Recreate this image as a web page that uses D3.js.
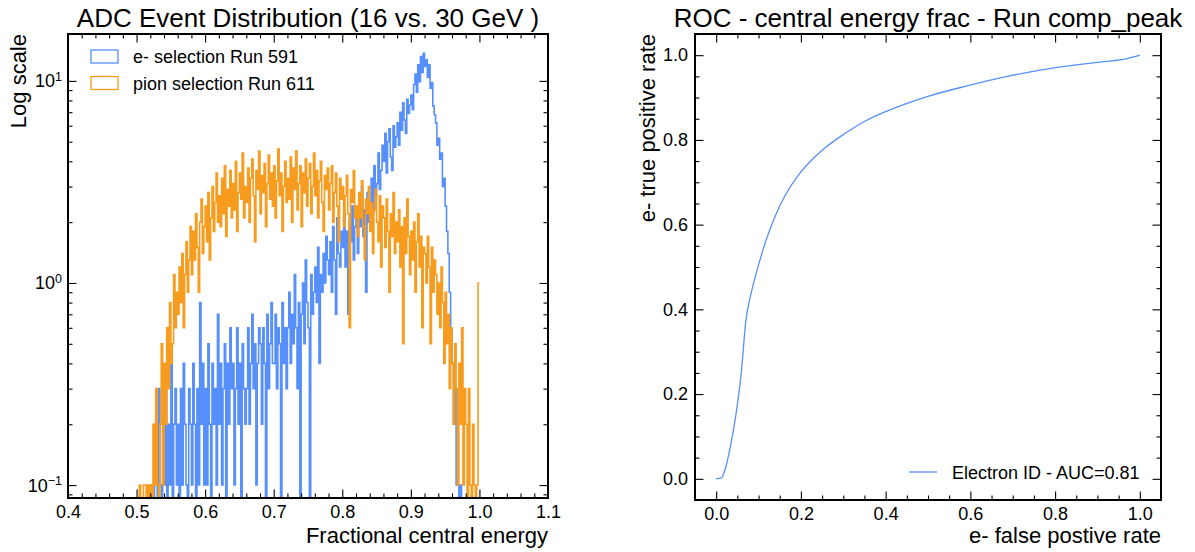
<!DOCTYPE html>
<html>
<head>
<meta charset="utf-8">
<title>ADC Event Distribution - ROC</title>
<script src="https://cdn.jsdelivr.net/npm/d3@7"></script>
<style>
  body { margin: 0; background: #fff; }
  svg text { font-family: "Liberation Sans", Arial, Helvetica, sans-serif; fill: #000; }
</style>
</head>
<body>
<svg id="chart" width="1195" height="552"></svg>
<script>
// histogram binning: 250 bins of 0.002 from 0.5 to 1.0
// values are counts per bin, drawn as density = count / 10
var binStart = 0.5, binWidth = 0.002, densityNorm = 10;

var eCounts = [
  0,0,0,0,0,0,0,0,0,0,
  1,0,0,2,1,0,3,1,0,2,
  1,3,0,2,1,4,0,2,3,1,
  2,0,3,1,4,2,1,0,3,2,
  1,4,2,0,3,1,8,2,4,1,
  3,1,5,2,0,4,2,3,1,7,
  2,4,1,3,5,0,4,2,6,3,
  4,1,3,6,2,4,0,5,3,2,
  3,6,2,4,7,3,5,1,4,6,
  5,2,6,4,0,7,3,5,8,4,
  4,7,3,6,5,0,8,4,6,3,
  6,9,4,7,5,11,6,3,8,0,
  7,10,5,13,8,6,0,11,7,9,
  12,8,15,4,11,9,14,10,17,13,
  11,16,9,19,13,7,21,14,12,18,
  15,22,12,18,7,20,16,24,13,19,
  21,14,26,19,30,17,23,9,28,20,
  25,33,22,38,27,31,44,29,36,48,
  40,55,35,50,58,42,36,60,47,53,
  62,48,70,57,78,64,55,81,69,76,
  85,72,96,108,88,120,99,132,110,137,
  118,127,104,120,92,98,75,68,62,48,
  52,41,44,30,33,24,18,14,9,6,
  4,2,3,1,1,0,1,0,0,0,
  0,0,0,0,0,0,0,0,0,0
];

var pionCounts = [
  0,0,1,0,0,1,1,0,1,0,
  1,0,2,1,3,1,0,2,5,1,
  4,2,6,3,8,4,5,11,6,9,
  7,12,8,14,6,11,16,9,13,19,
  11,18,13,22,15,9,20,26,14,19,
  24,16,28,13,21,30,18,25,35,20,
  27,19,33,22,38,17,29,24,36,21,
  31,23,40,18,28,35,26,44,21,30,
  25,37,20,33,41,27,16,36,29,45,
  22,34,28,39,19,31,43,26,35,24,
  38,21,32,46,27,35,18,30,40,25,
  33,26,42,20,37,29,45,23,31,38,
  19,35,28,41,24,33,39,22,30,44,
  27,36,21,32,40,25,18,34,29,37,
  23,31,38,20,28,35,24,16,33,26,
  30,19,27,34,22,6,29,25,36,21,
  24,17,28,21,32,19,13,26,22,30,
  18,25,14,23,29,20,16,27,12,24,
  21,15,26,18,9,22,17,28,14,20,
  16,23,12,19,5,21,14,26,17,11,
  18,13,20,9,16,22,12,17,6,15,
  14,10,17,12,5,15,9,13,11,7,
  10,6,12,8,4,9,5,7,3,6,
  4,2,5,3,1,4,2,6,1,3,
  2,0,3,1,0,2,1,0,1,10
];

var histLabels = ["e- selection Run 591", "pion selection Run 611"];
var histTicksX = [0.4, 0.5, 0.6, 0.7, 0.8, 0.9, 1.0, 1.1];
var histTicksY = [0.1, 1, 10];

// ROC curve
var rocFpr = [0, 0.012, 0.023, 0.035, 0.047, 0.059, 0.070, 0.082, 0.094, 0.117, 0.141, 0.164, 0.195,
              0.226, 0.258, 0.304, 0.351, 0.418, 0.504, 0.590, 0.693, 0.805, 0.909, 0.970, 1.0];
var rocTpr = [0, 0.002, 0.029, 0.084, 0.154, 0.248, 0.373, 0.436, 0.483, 0.561, 0.624, 0.671, 0.718,
              0.753, 0.782, 0.815, 0.844, 0.874, 0.904, 0.927, 0.951, 0.971, 0.984, 0.992, 1.0];
var rocLabel = "Electron ID - AUC=0.81";
var rocTicks = [0.0, 0.2, 0.4, 0.6, 0.8, 1.0];

var blue = "#5790fc", orange = "#f89c20";

var svg = d3.select("#chart");

var L = {x0: 68, x1: 548, y0: 34, y1: 498};
var R = {x0: 695, x1: 1161, y0: 34, y1: 500};

var xh = d3.scaleLinear().domain([0.4, 1.1]).range([L.x0, L.x1]);
var yh = d3.scaleLog().domain([0.0863, 17.06]).range([L.y1, L.y0]);
var xr = d3.scaleLinear().domain([-0.05, 1.05]).range([R.x0, R.x1]);
var yr = d3.scaleLinear().domain([-0.05, 1.05]).range([R.y1, R.y0]);

function fmt1(d) { return d.toFixed(1); }

function drawAxes(box, xs, ys, o) {
  var g = svg.append("g");
  function add(axis, tx, ty) {
    var a = g.append("g").attr("transform", "translate(" + tx + "," + ty + ")").call(axis);
    a.attr("font-size", 18).attr("font-family", null);
    return a;
  }
  add(d3.axisBottom(xs).tickValues(o.xMinor).tickSize(-4.5).tickFormat(""), 0, box.y1);
  add(d3.axisBottom(xs).tickValues(o.xMajor).tickSize(-8.5).tickPadding(7).tickFormat(o.xFmt), 0, box.y1);
  add(d3.axisTop(xs).tickValues(o.xMinor).tickSize(-4.5).tickFormat(""), 0, box.y0);
  add(d3.axisTop(xs).tickValues(o.xMajor).tickSize(-8.5).tickFormat(""), 0, box.y0);
  add(d3.axisLeft(ys).tickValues(o.yMinor).tickSize(-4.5).tickFormat(""), box.x0, 0);
  add(d3.axisLeft(ys).tickValues(o.yMajor).tickSize(-8.5).tickPadding(7).tickFormat(o.yFmt || ""), box.x0, 0);
  add(d3.axisRight(ys).tickValues(o.yMinor).tickSize(-4.5).tickFormat(""), box.x1, 0);
  add(d3.axisRight(ys).tickValues(o.yMajor).tickSize(-8.5).tickFormat(""), box.x1, 0);
  g.selectAll(".domain").remove();
  g.selectAll(".tick line").attr("stroke", "#000").attr("stroke-width", 1.1);
  svg.append("rect")
    .attr("x", box.x0).attr("y", box.y0)
    .attr("width", box.x1 - box.x0).attr("height", box.y1 - box.y0)
    .attr("fill", "none").attr("stroke", "#000").attr("stroke-width", 2);
  return g;
}

// ---------- left: histograms ----------
var defs = svg.append("defs");
defs.append("clipPath").attr("id", "clipL").append("rect")
  .attr("x", L.x0).attr("y", L.y0).attr("width", L.x1 - L.x0).attr("height", L.y1 - L.y0);
defs.append("clipPath").attr("id", "clipR").append("rect")
  .attr("x", R.x0).attr("y", R.y0).attr("width", R.x1 - R.x0).attr("height", R.y1 - R.y0);

function stepPoints(counts) {
  var pts = counts.map(function(c, i) { return [binStart + i * binWidth, c / densityNorm]; });
  pts.push([binStart + counts.length * binWidth, counts[counts.length - 1] / densityNorm]);
  return pts;
}
var stepLine = d3.line()
  .x(function(d) { return xh(d[0]); })
  .y(function(d) { return d[1] > 0 ? yh(d[1]) : L.y1 + 40; })
  .curve(d3.curveStepAfter);

var histG = svg.append("g").attr("clip-path", "url(#clipL)");
[[eCounts, blue], [pionCounts, orange]].forEach(function(s) {
  histG.append("path")
    .attr("d", stepLine(stepPoints(s[0])))
    .attr("fill", "none").attr("stroke", s[1]).attr("stroke-width", 1.6)
    .attr("stroke-linejoin", "miter");
});

var minorLogY = [];
[0.01, 0.1, 1, 10].forEach(function(dec) {
  for (var k = 2; k <= 9; k++) {
    var v = dec * k;
    if (v > yh.domain()[0] && v < yh.domain()[1]) minorLogY.push(v);
  }
});
drawAxes(L, xh, yh, {
  xMajor: histTicksX, xMinor: d3.range(0.42, 1.1, 0.02).filter(function(v) { return Math.abs(Math.round(v * 10) - v * 10) > 1e-6; }),
  yMajor: histTicksY, yMinor: minorLogY, xFmt: fmt1
});
histTicksY.forEach(function(v) {
  var e = String(Math.round(Math.log10(v))).replace("-", "\u2212");
  var t = svg.append("text").attr("x", L.x0 - 6).attr("y", yh(v)).attr("dy", "0.36em")
    .attr("text-anchor", "end").attr("font-size", 18);
  t.append("tspan").text("10");
  t.append("tspan").attr("dy", "-0.5em").attr("font-size", 12.5).text(e);
});

svg.append("text").attr("x", (L.x0 + L.x1) / 2).attr("y", 27).attr("text-anchor", "middle")
  .attr("font-size", 26).text("ADC Event Distribution (16 vs. 30 GeV )");
svg.append("text").attr("x", L.x1).attr("y", 543).attr("text-anchor", "end")
  .attr("font-size", 22).text("Fractional central energy");
svg.append("text").attr("transform", "translate(26," + L.y0 + ") rotate(-90)")
  .attr("text-anchor", "end").attr("font-size", 22).text("Log scale");

// legend (left)
[blue, orange].forEach(function(c, i) {
  svg.append("rect").attr("x", 91).attr("y", 50 + i * 26.5).attr("width", 27).attr("height", 13)
    .attr("fill", "none").attr("stroke", c).attr("stroke-width", 1.3);
  svg.append("text").attr("x", 133).attr("y", 63 + i * 26.5).attr("font-size", 18).text(histLabels[i]);
});

// ---------- right: ROC ----------
var rocMinor = d3.range(-0.05, 1.051, 0.05).filter(function(v) { return Math.abs(Math.round(v * 5) - v * 5) > 1e-6; });
drawAxes(R, xr, yr, {
  xMajor: rocTicks, xMinor: rocMinor, yMajor: rocTicks, yMinor: rocMinor, xFmt: fmt1, yFmt: fmt1
});
var rocLine = d3.line()
  .x(function(d, i) { return xr(rocFpr[i]); })
  .y(function(d, i) { return yr(rocTpr[i]); })
  .curve(d3.curveMonotoneX);
svg.append("g").attr("clip-path", "url(#clipR)").append("path")
  .attr("d", rocLine(rocFpr))
  .attr("fill", "none").attr("stroke", blue).attr("stroke-width", 1.3);

svg.append("text").attr("x", (R.x0 + R.x1) / 2).attr("y", 27).attr("text-anchor", "middle")
  .attr("font-size", 26).text("ROC - central energy frac - Run comp_peak");
svg.append("text").attr("x", R.x1).attr("y", 543).attr("text-anchor", "end")
  .attr("font-size", 22).text("e- false postive rate");
svg.append("text").attr("transform", "translate(655," + R.y0 + ") rotate(-90)")
  .attr("text-anchor", "end").attr("font-size", 22).text("e- true positive rate");

svg.append("line").attr("x1", 909).attr("x2", 937).attr("y1", 472).attr("y2", 472)
  .attr("stroke", blue).attr("stroke-width", 1.3);
svg.append("text").attr("x", 952).attr("y", 479).attr("font-size", 18).text(rocLabel);
</script>
</body>
</html>
